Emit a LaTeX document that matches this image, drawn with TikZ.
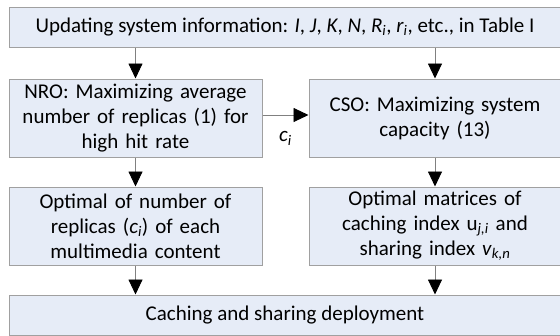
\documentclass[tikz,border=0pt]{standalone}
\usepackage{fontspec}
\setmainfont{Carlito}
\usetikzlibrary{arrows.meta}
\definecolor{boxfill}{HTML}{E6ECF7}
\definecolor{boxline}{HTML}{A0A0A0}
\definecolor{arrline}{HTML}{808080}
\tikzset{
  blk/.style={draw=boxline, line width=1pt, fill=boxfill, align=center,
    inner sep=0pt, font=\fontsize{21}{25}\selectfont},
  conn/.style={draw=arrline, line width=0.9pt,
    -{Triangle[width=14pt,length=15pt,fill=black,color=black]}},
}
\begin{document}
\begin{tikzpicture}[x=1pt,y=-1pt]
\useasboundingbox (0,0) rectangle (560,335);
\node[blk, minimum width=552pt, minimum height=40pt] (top) at (285,27)
  {Updating system information: \textit{I}, \textit{J}, \textit{K}, \textit{N}, \textit{R}\textsubscript{\textit{i}}, \textit{r}\textsubscript{\textit{i}}, etc., in Table I};
\node[blk, minimum width=253pt, minimum height=78pt, text width=250pt] (nro) at (135.5,118)
  {NRO: Maximizing average\\number of replicas (1) for\\high hit rate};
\node[blk, minimum width=252pt, minimum height=78pt, text width=250pt] (cso) at (435,118)
  {CSO: Maximizing system\\capacity (13)};
\node[blk, minimum width=253pt, minimum height=78pt, text width=250pt] (opt1) at (135.5,226)
  {Optimal of number of\\replicas (\textit{c}\textsubscript{\textit{i}}) of each\\multimedia content};
\node[blk, minimum width=252pt, minimum height=78pt, text width=250pt] (opt2) at (435,226)
  {Optimal matrices of\\caching index u\textsubscript{\textit{j,i}} and\\sharing index \textit{v}\textsubscript{\textit{k,n}}};
\node[blk, minimum width=552pt, minimum height=40pt] (dep) at (285,315)
  {Caching and sharing deployment};
\draw[conn] (top.south -| nro.center) -- (nro.north);
\draw[conn] (top.south -| cso.center) -- (cso.north);
\draw[conn] ([yshift=3pt]nro.east) -- ([yshift=3pt]cso.west)
  node[midway, below=13pt, font=\fontsize{21}{25}\selectfont] (ci) {\textit{c}\textsubscript{\textit{i}}};
\draw[conn] (nro.south) -- (opt1.north);
\draw[conn] (cso.south) -- (opt2.north);
\draw[conn] (opt1.south) -- (dep.north -| opt1.center);
\draw[conn] (opt2.south) -- (dep.north -| opt2.center);
\end{tikzpicture}
\end{document}
